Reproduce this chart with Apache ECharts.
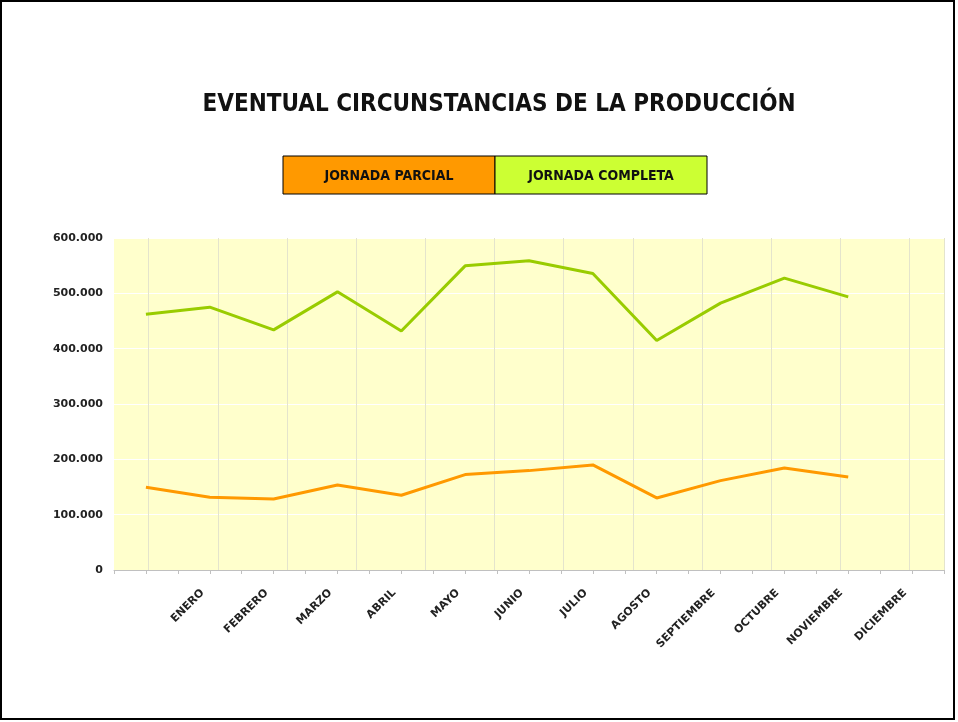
<!DOCTYPE html>
<html>
<head>
<meta charset="utf-8">
<script src="https://cdn.jsdelivr.net/npm/echarts@6/dist/echarts.min.js"></script>
<style>
  html, body { margin: 0; padding: 0; background: #fff; }
  #frame { position: absolute; left: 0; top: 0; width: 955px; height: 720px; border: 2px solid #000; box-sizing: border-box; }
  #chart { position: absolute; left: 0; top: 0; width: 958px; height: 722px; }
</style>
</head>
<body>
<div id="chart"></div>
<div id="frame"></div>
<script>
// datos
const months = ['ENERO', 'FEBRERO', 'MARZO', 'ABRIL', 'MAYO', 'JUNIO', 'JULIO', 'AGOSTO', 'SEPTIEMBRE', 'OCTUBRE', 'NOVIEMBRE', 'DICIEMBRE']
// el original deja un hueco vacío antes de ENERO
const categories = [''].concat(months)
const parcial = [149500, 131400, 128400, 153700, 135000, 172400, 179600, 189900, 130200, 161500, 184400, 168200]
const completa = [462400, 475000, 434000, 502700, 432000, 549700, 558800, 535800, 414700, 482300, 527500, 493700]
const yTicks = [0, 100000, 200000, 300000, 400000, 500000, 600000]

const legendItems = [
  { name: 'JORNADA PARCIAL', fill: '#FF9900' },
  { name: 'JORNADA COMPLETA', fill: '#CCFF33' }
]

const chart = echarts.init(document.getElementById('chart'))

// formato con punto de miles
const fmt = (v) => String(v).replace(/\B(?=(\d{3})+(?!\d))/g, '.')

const labelFont = { fontFamily: 'DejaVu Sans', fontWeight: 'bold', fontSize: 11, color: '#222' }

// leyenda dibujada como dos cajas contiguas
const legendGraphic = []
legendItems.forEach((it, i) => {
  const x = 283 + i * 212
  legendGraphic.push({
    type: 'rect', x: x, y: 156,
    shape: { x: 0, y: 0, width: 212, height: 38 },
    style: { fill: it.fill, stroke: '#000', lineWidth: 1 }
  })
  legendGraphic.push({
    type: 'text', x: x + 106, y: 176,
    style: {
      text: it.name, x: 0, y: 0, align: 'center', verticalAlign: 'middle',
      font: 'bold 14px "DejaVu Sans Condensed", "DejaVu Sans"', fill: '#111'
    }
  })
})

const option = {
  animation: false,
  backgroundColor: '#fff',
  title: {
    text: 'EVENTUAL CIRCUNSTANCIAS DE LA PRODUCCIÓN',
    left: 494, top: 88, textAlign: 'center',
    textStyle: { fontFamily: '"Liberation Sans Narrow", "DejaVu Sans Condensed", sans-serif', fontWeight: 'bold', fontSize: 24, color: '#111' }
  },
  graphic: legendGraphic,
  grid: { left: 114, right: 14, top: 238, bottom: 152, show: true, backgroundColor: '#FFFFCC', borderWidth: 0 },
  xAxis: [
    {
      type: 'category', data: categories, boundaryGap: true, position: 'bottom',
      axisLine: { lineStyle: { color: '#c0c0c0', width: 1 } },
      axisTick: { show: false },
      axisLabel: Object.assign({ interval: 0, rotate: 45, margin: 14, padding: [0, 10, 0, 0] }, labelFont),
      splitLine: { show: false }
    },
    {
      // marcas de la escala cada media categoría
      type: 'category', data: new Array(26).fill(''), boundaryGap: true, position: 'bottom', offset: 0,
      axisLine: { show: false },
      axisTick: { show: true, length: 4, lineStyle: { color: '#c0c0c0' } },
      axisLabel: { show: false }, splitLine: { show: false }
    },
    {
      // líneas verticales del fondo
      type: 'category', data: new Array(24).fill(''), boundaryGap: true, position: 'bottom', offset: 0,
      axisLine: { show: false }, axisTick: { show: false }, axisLabel: { show: false },
      splitLine: { show: true, interval: (i) => i % 2 === 1, lineStyle: { color: '#e4e4cc', width: 1 } }
    }
  ],
  yAxis: {
    type: 'value', min: yTicks[0], max: yTicks[yTicks.length - 1], interval: 100000,
    axisLine: { show: false }, axisTick: { show: false },
    axisLabel: Object.assign({ margin: 11, formatter: fmt }, labelFont),
    splitLine: { lineStyle: { color: '#ffffff', width: 1 } }
  },
  series: [
    {
      name: 'JORNADA PARCIAL', type: 'line', xAxisIndex: 0, data: parcial,
      symbol: 'none', lineStyle: { color: '#FF9900', width: 3 }, z: 3
    },
    {
      name: 'JORNADA COMPLETA', type: 'line', xAxisIndex: 0, data: completa,
      symbol: 'none', lineStyle: { color: '#99CC00', width: 3 }, z: 3
    }
  ]
}

chart.setOption(option)
</script>
</body>
</html>
